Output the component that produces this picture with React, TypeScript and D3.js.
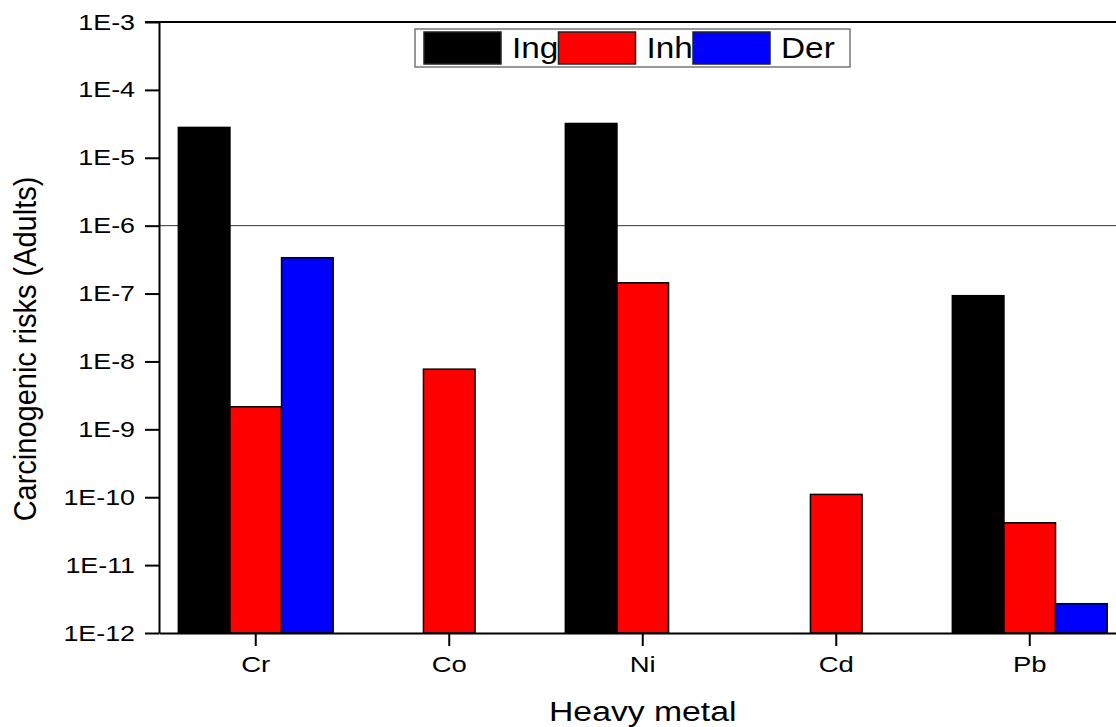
import React, { useEffect, useRef } from 'react'
import * as d3 from 'd3'

// heavy metals on the x axis
const metals = ['Cr', 'Co', 'Ni', 'Cd', 'Pb']
// exposure pathways (legend order)
const pathways = ['Ing', 'Inh', 'Der']
const pathwayColors = ['#000000', '#ff0000', '#0000ff']

// carcinogenic risk per metal, null where there is no bar
const ingValues = [2.8e-5, null, 3.2e-5, null, 9.3e-8]
const inhValues = [2.15e-9, 7.7e-9, 1.44e-7, 1.1e-10, 4.2e-11]
const derValues = [3.37e-7, null, null, null, 2.7e-12]

const yTickValues = [1e-12, 1e-11, 1e-10, 1e-9, 1e-8, 1e-7, 1e-6, 1e-5, 1e-4, 1e-3]
const thresholdValue = 1e-6

const FONT = '"Liberation Sans", Arial, sans-serif'

export default function App() {
  const ref = useRef<SVGSVGElement>(null)

  useEffect(() => {
    const width = 1116
    const height = 727
    const left = 159
    const top = 22
    const bottom = 633
    const right = 1126.5

    const svg = d3.select(ref.current)
    svg.selectAll('*').remove()
    svg.attr('width', width).attr('height', height)

    const x0 = d3.scaleBand<string>()
      .domain(metals)
      .range([left, right])
      .paddingInner(0.2)
      .paddingOuter(0.1)

    const x1 = d3.scaleBand<string>()
      .domain(pathways)
      .range([0, x0.bandwidth()])

    const y = d3.scaleLog()
      .domain([1e-12, 1e-3])
      .range([bottom, top])

    // threshold line at 1E-6
    svg.append('line')
      .attr('x1', left)
      .attr('x2', width)
      .attr('y1', y(thresholdValue))
      .attr('y2', y(thresholdValue))
      .style('stroke', '#333')
      .style('stroke-width', 1)

    const series = [ingValues, inhValues, derValues]
    const rows: { metal: string, key: string, color: string, v: number }[] = []
    metals.forEach((m, i) => {
      pathways.forEach((p, j) => {
        const v = series[j][i]
        if (v != null) rows.push({ metal: m, key: p, color: pathwayColors[j], v })
      })
    })

    svg.append('g')
      .selectAll('rect')
      .data(rows)
      .enter()
      .append('rect')
        .attr('x', d => (x0(d.metal) as number) + (x1(d.key) as number))
        .attr('y', d => y(d.v))
        .attr('width', x1.bandwidth())
        .attr('height', d => y(1e-12) - y(d.v))
        .style('fill', d => d.color)
        .style('stroke', '#000')
        .style('stroke-width', 1.5)

    // left axis
    const yAxis = svg.append('g')
      .attr('transform', `translate(${left}, 0)`)
      .call(
        d3.axisLeft(y)
          .tickValues(yTickValues)
          .tickFormat(d => `1E${Math.round(Math.log10(d as number))}`)
          .tickSize(14)
          .tickSizeOuter(0)
      )
    yAxis.select('.domain').attr('stroke-width', 2)
    yAxis.selectAll('.tick line').attr('stroke-width', 2)
    yAxis.selectAll('.tick text')
      .attr('x', -24 / 1.22)
      .attr('transform', 'scale(1.22,1)')
      .style('font-family', FONT)
      .style('font-size', '22px')
      .style('fill', '#000')

    // bottom axis
    const xAxis = svg.append('g')
      .attr('transform', `translate(0, ${bottom})`)
      .call(d3.axisBottom(x0).tickSize(13).tickSizeOuter(0).tickPadding(10))
    xAxis.select('.domain').attr('stroke-width', 2)
    xAxis.selectAll('.tick line').attr('stroke-width', 2)
    xAxis.selectAll('.tick text')
      .attr('transform', 'scale(1.25,1)')
      .style('font-family', FONT)
      .style('font-size', '22px')
      .style('fill', '#000')

    // top frame
    svg.append('line')
      .attr('x1', left - 14)
      .attr('x2', width)
      .attr('y1', top)
      .attr('y2', top)
      .style('stroke', '#000')
      .style('stroke-width', 2)

    // axis titles
    svg.append('text')
      .attr('transform', `translate(${(left + right) / 2}, 721) scale(1.25,1)`)
      .attr('text-anchor', 'middle')
      .style('font-family', FONT)
      .style('font-size', '27px')
      .text('Heavy metal')

    svg.append('text')
      .attr('transform', `translate(36, ${349}) rotate(-90) scale(1,1.1)`)
      .attr('text-anchor', 'middle')
      .style('font-family', FONT)
      .style('font-size', '29px')
      .text('Carcinogenic risks (Adults)')

    // legend
    const legend = svg.append('g')
    legend.append('rect')
      .attr('x', 415)
      .attr('y', 29)
      .attr('width', 435)
      .attr('height', 38)
      .style('fill', '#fff')
      .style('stroke', '#777')
      .style('stroke-width', 1.5)

    const items = legend.selectAll('g.item')
      .data(pathways)
      .enter()
      .append('g')
        .attr('transform', (d, i) => `translate(${424 + i * 134.5}, 0)`)
    items.append('rect')
      .attr('x', 0)
      .attr('y', 32)
      .attr('width', 77)
      .attr('height', 32)
      .style('fill', (d, i) => pathwayColors[i])
      .style('stroke', '#222')
      .style('stroke-width', 1.5)
    items.append('text')
      .attr('transform', 'translate(88, 58) scale(1.15,1)')
      .style('font-family', FONT)
      .style('font-size', '29px')
      .text(d => d)
  }, [])

  return (
    <div>
      <svg ref={ref} style={{ position: 'absolute', left: 0, top: 0, background: '#fff' }} />
    </div>
  )
}
